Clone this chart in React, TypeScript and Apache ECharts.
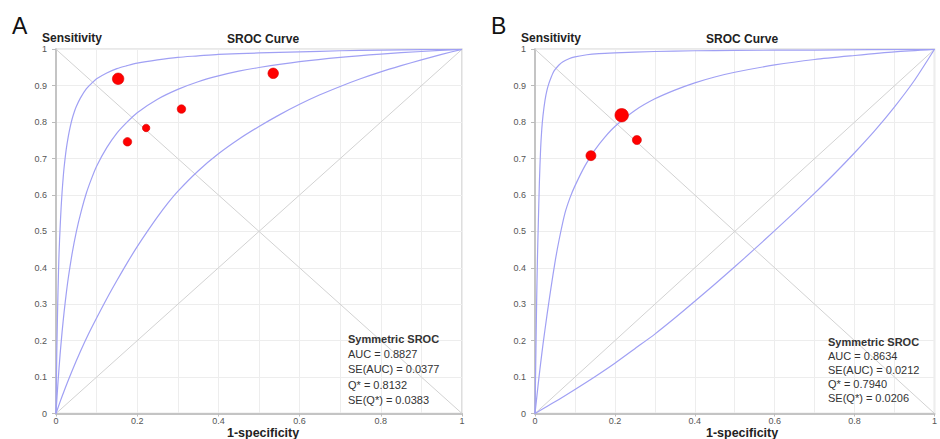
import React, { useEffect, useRef } from "react";
import * as echarts from "echarts";

// ---- Panel A data ----
const studyA_fpr = [0.153, 0.176, 0.222, 0.309, 0.535];
const studyA_tpr = [0.919, 0.746, 0.784, 0.836, 0.934];
const studyA_weight = [11.5, 8.5, 7.5, 8.5, 10.5];

const curveA_upper = [
  [0, 0], [0.002, 0.17], [0.005, 0.339], [0.0075, 0.44], [0.01, 0.507], [0.0125, 0.563],
  [0.015, 0.608], [0.0175, 0.645], [0.02, 0.676], [0.025, 0.724], [0.03, 0.759], [0.035, 0.787],
  [0.04, 0.81], [0.045, 0.828], [0.05, 0.843], [0.06, 0.866], [0.075, 0.892], [0.09, 0.909],
  [0.1, 0.919], [0.125, 0.935], [0.15, 0.947], [0.175, 0.955], [0.2, 0.962], [0.25, 0.971],
  [0.3, 0.978], [0.35, 0.982], [0.4, 0.986], [0.5, 0.99], [0.6, 0.993], [0.7, 0.996],
  [0.8, 0.998], [0.9, 0.999], [1, 1],
];
const curveA_sroc = [
  [0, 0], [0.002, 0.037], [0.005, 0.087], [0.01, 0.161], [0.015, 0.224], [0.02, 0.279],
  [0.025, 0.327], [0.03, 0.37], [0.04, 0.441], [0.05, 0.499], [0.0625, 0.557], [0.075, 0.606],
  [0.0875, 0.645], [0.1, 0.679], [0.125, 0.73], [0.15, 0.77], [0.175, 0.8], [0.2, 0.826],
  [0.25, 0.863], [0.3, 0.89], [0.35, 0.911], [0.4, 0.927], [0.45, 0.94], [0.5, 0.95],
  [0.6, 0.966], [0.7, 0.978], [0.8, 0.987], [0.9, 0.994], [1, 1],
];
const curveA_lower = [
  [0, 0], [0.01, 0.032], [0.02, 0.062], [0.04, 0.118], [0.06, 0.17], [0.08, 0.218],
  [0.1, 0.262], [0.125, 0.315], [0.15, 0.365], [0.175, 0.413], [0.2, 0.458], [0.225, 0.5],
  [0.25, 0.54], [0.275, 0.577], [0.3, 0.61], [0.35, 0.666], [0.4, 0.713], [0.45, 0.753],
  [0.5, 0.788], [0.55, 0.82], [0.6, 0.849], [0.65, 0.875], [0.7, 0.898], [0.75, 0.919],
  [0.8, 0.938], [0.85, 0.955], [0.9, 0.971], [0.95, 0.986], [1, 1],
];
const statsA = ["Symmetric SROC", "AUC = 0.8827", "SE(AUC) = 0.0377", "Q* = 0.8132", "SE(Q*) = 0.0383"];

// ---- Panel B data ----
const studyB_fpr = [0.217, 0.14, 0.255];
const studyB_tpr = [0.819, 0.708, 0.751];
const studyB_weight = [13.5, 10, 9];

const curveB_upper = [
  [0, 0], [0.002, 0.15], [0.004, 0.3], [0.006, 0.42], [0.008, 0.51], [0.011, 0.635],
  [0.014, 0.725], [0.017, 0.781], [0.02, 0.818], [0.025, 0.86], [0.03, 0.888], [0.035, 0.907],
  [0.04, 0.922], [0.045, 0.935], [0.05, 0.944], [0.06, 0.957], [0.07, 0.966], [0.085, 0.974],
  [0.1, 0.979], [0.13, 0.985], [0.16, 0.988], [0.2, 0.99], [0.3, 0.994], [0.4, 0.996],
  [0.5, 0.997], [0.7, 0.998], [1, 1],
];
const curveB_sroc = [
  [0, 0], [0.005, 0.05], [0.01, 0.1], [0.015, 0.146], [0.02, 0.19], [0.03, 0.27],
  [0.04, 0.345], [0.05, 0.415], [0.06, 0.475], [0.075, 0.55], [0.0875, 0.592], [0.1, 0.625],
  [0.125, 0.68], [0.15, 0.724], [0.175, 0.759], [0.2, 0.788], [0.25, 0.832], [0.3, 0.864],
  [0.35, 0.888], [0.4, 0.908], [0.45, 0.924], [0.5, 0.937], [0.6, 0.957], [0.7, 0.972],
  [0.8, 0.983], [0.9, 0.993], [1, 1],
];
const curveB_lower = [
  [0, 0], [0.05, 0.032], [0.1, 0.066], [0.15, 0.101], [0.2, 0.138], [0.25, 0.178],
  [0.3, 0.218], [0.35, 0.262], [0.4, 0.308], [0.45, 0.355], [0.5, 0.403], [0.55, 0.452],
  [0.6, 0.502], [0.65, 0.553], [0.7, 0.605], [0.75, 0.659], [0.8, 0.716], [0.85, 0.776],
  [0.9, 0.842], [0.95, 0.915], [1, 1],
];
const statsB = ["Symmetric SROC", "AUC = 0.8634", "SE(AUC) = 0.0212", "Q* = 0.7940", "SE(Q*) = 0.0206"];

const chanceLine = [[0, 0], [1, 1]];
const antiDiagonal = [[0, 1], [1, 0]];

const FONT = "'Liberation Sans', Arial, sans-serif";
const CURVE_COLOR = "#a0a0f4";

const panels = [
  { letter: "A", left: 56, fpr: studyA_fpr, tpr: studyA_tpr, w: studyA_weight, curves: [curveA_upper, curveA_sroc, curveA_lower], stats: statsA, statsX: 348, statsY: 339, statsGap: 15.2 },
  { letter: "B", left: 535, fpr: studyB_fpr, tpr: studyB_tpr, w: studyB_weight, curves: [curveB_upper, curveB_sroc, curveB_lower], stats: statsB, statsX: 828, statsY: 342, statsGap: 13.9 },
];

const TOP = 49.3;
const W = 406;
const H = 364.2;

export default function App() {
  const ref = useRef<HTMLDivElement>(null);
  useEffect(() => {
    if (!ref.current) return;
    const chart = echarts.init(ref.current, null, { renderer: "svg" });
    const grid: any[] = [];
    const xAxis: any[] = [];
    const yAxis: any[] = [];
    const series: any[] = [];
    const graphic: any[] = [];

    panels.forEach((p, i) => {
      grid.push({ left: p.left, top: TOP, width: W, height: H, show: true, borderColor: "#d4d4d4", borderWidth: 1.5, backgroundColor: "#fff" });
      xAxis.push({
        type: "value", gridIndex: i, min: 0, max: 1, interval: 0.2,
        axisLine: { show: true, onZero: false, lineStyle: { color: "#c4c4c4", width: 2 } },
        axisTick: { show: true, length: 3, lineStyle: { color: "#bbb" } },
        axisLabel: { fontSize: 9, lineHeight: 9, color: "#555", margin: 3, fontFamily: FONT, formatter: (v: number) => String(+v.toFixed(1)) },
        splitLine: { show: true, lineStyle: { color: "#ededed", width: 1 } },
        minorTick: { show: false, splitNumber: 2 },
        minorSplitLine: { show: true, lineStyle: { color: "#ededed", width: 1 } },
      });
      yAxis.push({
        type: "value", gridIndex: i, min: 0, max: 1, interval: 0.1,
        axisLine: { show: true, onZero: false, lineStyle: { color: "#c4c4c4", width: 2 } },
        axisTick: { show: true, length: 4, lineStyle: { color: "#bbb" } },
        axisLabel: { fontSize: 9, color: "#555", margin: 9, fontFamily: FONT, formatter: (v: number) => String(+v.toFixed(1)) },
        splitLine: { show: true, lineStyle: { color: "#ededed", width: 1 } },
      });
      [chanceLine, antiDiagonal].forEach((d) => {
        series.push({ type: "line", xAxisIndex: i, yAxisIndex: i, data: d, showSymbol: false, silent: true, lineStyle: { color: "#d2d2d2", width: 1 }, z: 2 });
      });
      p.curves.forEach((c) => {
        series.push({ type: "line", xAxisIndex: i, yAxisIndex: i, data: c, showSymbol: false, smooth: 0.25, silent: true, lineStyle: { color: CURVE_COLOR, width: 1.2 }, z: 3 });
      });
      series.push({
        type: "scatter", xAxisIndex: i, yAxisIndex: i,
        data: p.fpr.map((x, k) => [x, p.tpr[k], p.w[k]]),
        symbolSize: (v: number[]) => v[2],
        itemStyle: { color: "#ff0000", borderColor: "#d80000", borderWidth: 0.6, opacity: 1 },
        z: 5,
      });
      graphic.push(
        { type: "text", left: p.left - 44, top: 14, style: { text: p.letter, font: `normal 23px ${FONT}`, fill: "#111" } },
        { type: "text", left: p.left - 14, top: 32, style: { text: "Sensitivity", font: `bold 12px ${FONT}`, fill: "#222" } },
        { type: "text", x: p.left + W * 0.51, y: 39, style: { text: "SROC Curve", font: `bold 12px ${FONT}`, fill: "#222", align: "center", verticalAlign: "middle" } },
        { type: "text", x: p.left + W * 0.51, y: 433, style: { text: "1-specificity", font: `bold 12.5px ${FONT}`, lineHeight: 12.5, fill: "#222", align: "center", verticalAlign: "middle" } },
      );
      p.stats.forEach((s, k) => {
        graphic.push({
          type: "text", x: p.statsX, y: p.statsY + k * p.statsGap,
          style: { text: s, font: `${k === 0 ? "bold" : "normal"} 11px ${FONT}`, fill: "#333", verticalAlign: "middle" },
          z: 10,
        });
      });
    });

    chart.setOption({ animation: false, backgroundColor: "#fff", grid, xAxis, yAxis, series, graphic, tooltip: { show: false } });
    return () => chart.dispose();
  }, []);
  return <div ref={ref} style={{ width: 940, height: 439, position: "absolute", left: 0, top: 0 }} />;
}
